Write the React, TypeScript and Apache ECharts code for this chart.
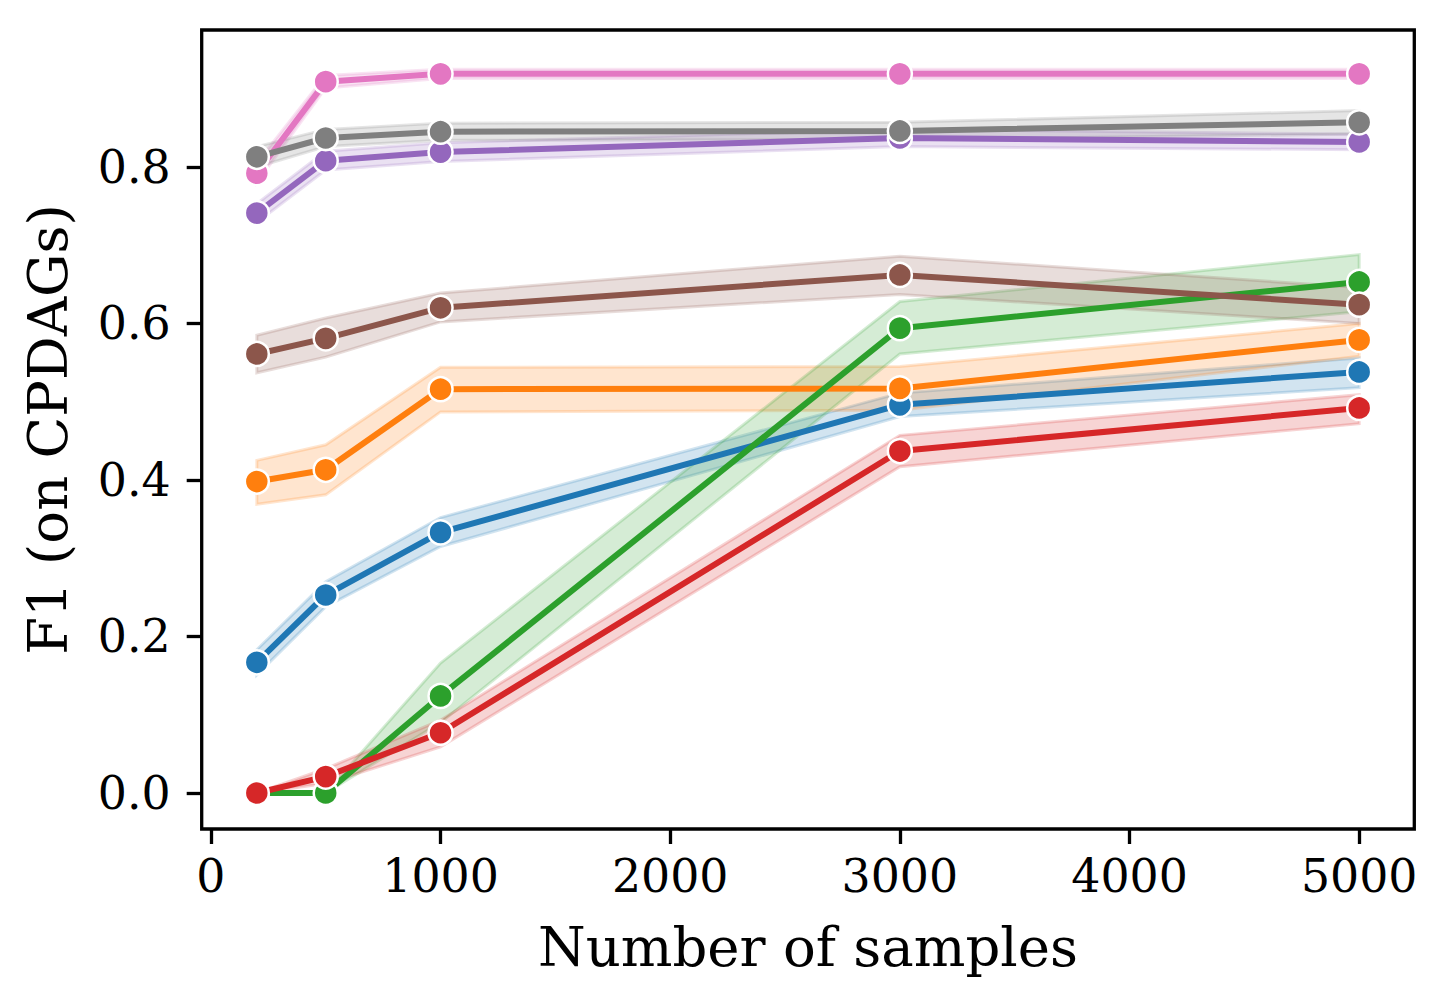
import React, { useEffect, useRef } from "react";
import * as echarts from "echarts";

const xs = [200, 500, 1000, 3000, 5000];
const xTicks = [0, 1000, 2000, 3000, 4000, 5000];
const yTicks = [0, 0.2, 0.4, 0.6, 0.8];

const blueMean = [0.167, 0.253, 0.333, 0.496, 0.538];
const blueLow = [0.151, 0.238, 0.315, 0.481, 0.518];
const blueHigh = [0.183, 0.27, 0.352, 0.511, 0.556];

const orangeMean = [0.398, 0.413, 0.516, 0.517, 0.579];
const orangeLow = [0.369, 0.381, 0.487, 0.489, 0.558];
const orangeHigh = [0.425, 0.445, 0.544, 0.545, 0.6];

const greenMean = [0, 0, 0.124, 0.594, 0.653];
const greenLow = [0, 0, 0.09, 0.561, 0.615];
const greenHigh = [0, 0, 0.166, 0.628, 0.688];

const redMean = [0, 0.021, 0.077, 0.437, 0.492];
const redLow = [0, 0.012, 0.059, 0.417, 0.472];
const redHigh = [0, 0.031, 0.093, 0.457, 0.509];

const purpleMean = [0.741, 0.808, 0.819, 0.837, 0.832];
const purpleLow = [0.729, 0.796, 0.807, 0.826, 0.822];
const purpleHigh = [0.753, 0.82, 0.831, 0.848, 0.842];

const brownMean = [0.561, 0.581, 0.62, 0.662, 0.624];
const brownLow = [0.537, 0.557, 0.602, 0.637, 0.6];
const brownHigh = [0.585, 0.607, 0.639, 0.686, 0.646];

const pinkMean = [0.792, 0.909, 0.919, 0.919, 0.919];
const pinkLow = [0.78, 0.901, 0.913, 0.913, 0.913];
const pinkHigh = [0.805, 0.917, 0.925, 0.925, 0.925];

const grayMean = [0.813, 0.837, 0.845, 0.846, 0.857];
const grayLow = [0.8, 0.826, 0.834, 0.835, 0.842];
const grayHigh = [0.826, 0.848, 0.856, 0.857, 0.872];

const groups = [
  { name: "blue", color: "#1f77b4", mean: blueMean, low: blueLow, high: blueHigh },
  { name: "orange", color: "#ff7f0e", mean: orangeMean, low: orangeLow, high: orangeHigh },
  { name: "green", color: "#2ca02c", mean: greenMean, low: greenLow, high: greenHigh },
  { name: "red", color: "#d62728", mean: redMean, low: redLow, high: redHigh },
  { name: "purple", color: "#9467bd", mean: purpleMean, low: purpleLow, high: purpleHigh },
  { name: "brown", color: "#8c564b", mean: brownMean, low: brownLow, high: brownHigh },
  { name: "pink", color: "#e377c2", mean: pinkMean, low: pinkLow, high: pinkHigh },
  { name: "gray", color: "#7f7f7f", mean: grayMean, low: grayLow, high: grayHigh },
];

function hexToRgba(hex: string, a: number) {
  const r = parseInt(hex.slice(1, 3), 16);
  const g = parseInt(hex.slice(3, 5), 16);
  const b = parseInt(hex.slice(5, 7), 16);
  return `rgba(${r},${g},${b},${a})`;
}

const FONT = "DejaVu Serif";

export default function App() {
  const ref = useRef<HTMLDivElement>(null);
  useEffect(() => {
    if (!ref.current) return;
    const chart = echarts.init(ref.current, undefined, { renderer: "svg" });

    const bandSeries = groups.map((g) => ({
      type: "custom",
      name: g.name + " band",
      z: 1,
      silent: true,
      clip: true,
      data: [[xs[0], g.mean[0]]],
      encode: { x: 0, y: 1 },
      renderItem: (params: any, api: any) => {
        const pts: number[][] = [];
        for (let i = 0; i < xs.length; i++) pts.push(api.coord([xs[i], g.high[i]]));
        for (let i = xs.length - 1; i >= 0; i--) pts.push(api.coord([xs[i], g.low[i]]));
        return {
          type: "polygon",
          shape: { points: pts },
          style: {
            fill: hexToRgba(g.color, 0.2),
            stroke: hexToRgba(g.color, 0.2),
            lineWidth: 3,
          },
        };
      },
    }));

    const lineSeries = groups.map((g, k) => ({
      type: "line",
      name: g.name,
      z: 2 + k,
      data: xs.map((x, i) => [x, g.mean[i]]),
      symbol: "circle",
      symbolSize: 24,
      showSymbol: true,
      lineStyle: { color: g.color, width: 6 },
      itemStyle: { color: g.color, borderColor: "#ffffff", borderWidth: 2.5 },
    }));

    chart.setOption({
      animation: false,
      grid: {
        left: 201.7,
        right: 32.7,
        top: 30,
        bottom: 1003 - 829,
        show: true,
        borderColor: "#000",
        borderWidth: 3.3,
        backgroundColor: "#fff",
      },
      xAxis: {
        type: "value",
        min: -40,
        max: 5240,
        name: "Number of samples",
        nameLocation: "middle",
        nameGap: 90,
        nameTextStyle: { fontFamily: FONT, fontSize: 54.5, color: "#000" },
        axisLine: { show: false, onZero: false },
        splitLine: { show: false },
        axisTick: {
          show: true,
          inside: false,
          customValues: xTicks,
          length: 15,
          lineStyle: { color: "#000", width: 3.3 },
        },
        axisLabel: {
          customValues: xTicks,
          margin: 24,
          fontFamily: FONT,
          fontSize: 45.8,
          color: "#000",
          formatter: (v: number) => String(v),
        },
      },
      yAxis: {
        type: "value",
        min: -0.046,
        max: 0.975,
        name: "F1 (on CPDAGs)",
        nameLocation: "middle",
        nameRotate: 90,
        nameGap: 126,
        nameTextStyle: { fontFamily: FONT, fontSize: 54.5, color: "#000" },
        axisLine: { show: false, onZero: false },
        splitLine: { show: false },
        axisTick: {
          show: true,
          inside: false,
          customValues: yTicks,
          length: 15,
          lineStyle: { color: "#000", width: 3.3 },
        },
        axisLabel: {
          customValues: yTicks,
          margin: 31,
          fontFamily: FONT,
          fontSize: 45.8,
          color: "#000",
          formatter: (v: number) => v.toFixed(1),
        },
      },
      series: [...bandSeries, ...lineSeries],
    });
    return () => chart.dispose();
  }, []);
  return (
    <div
      ref={ref}
      style={{ position: "fixed", left: 0, top: 0, width: 1447, height: 1003, background: "#fff" }}
    />
  );
}
